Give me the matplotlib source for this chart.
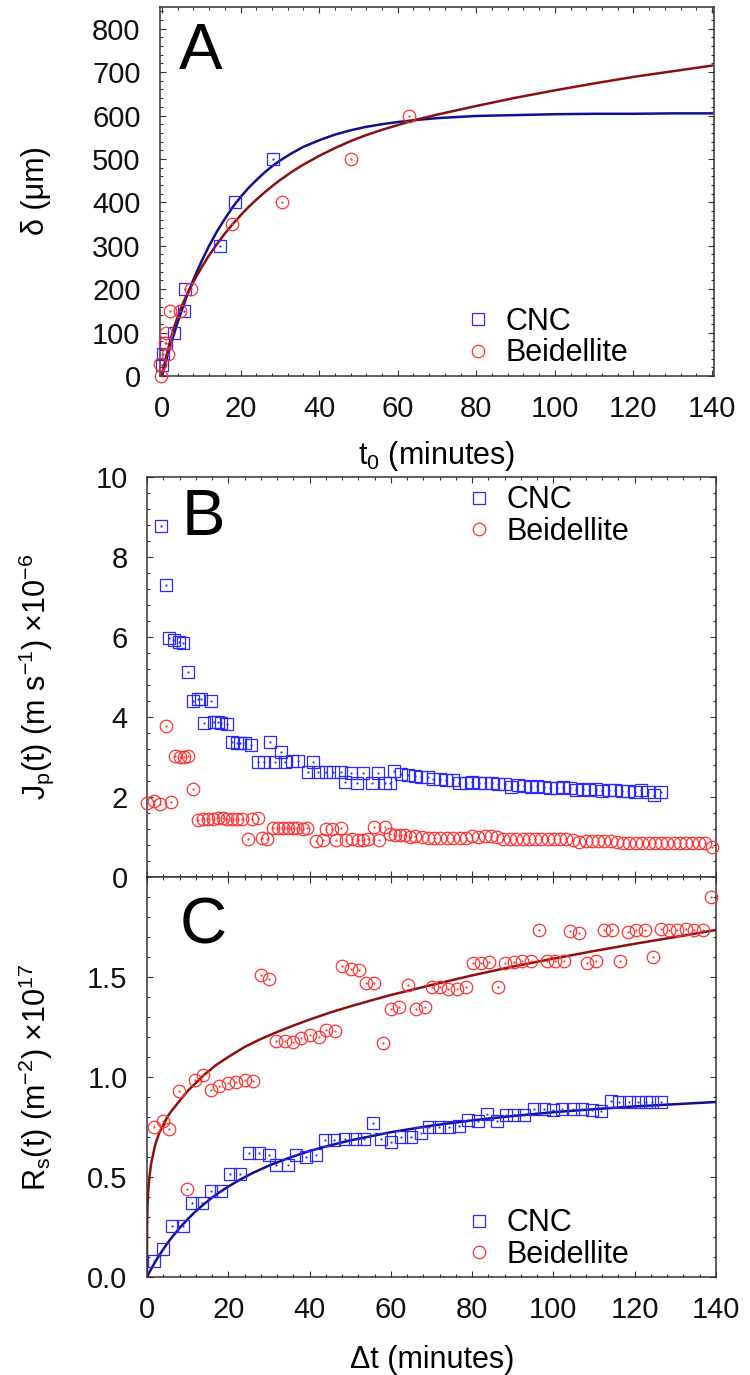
import matplotlib
matplotlib.use("Agg")
import matplotlib.pyplot as plt
from matplotlib.ticker import MultipleLocator

plt.rcParams["font.family"] = ["Liberation Sans", "DejaVu Sans"]
plt.rcParams["mathtext.default"] = "regular"

CNC_COLOR = "#2a2aff"
BEI_COLOR = "#ff3232"
CNC_FIT_COLOR = "#10108c"
BEI_FIT_COLOR = "#8c1010"

# ---- panel A: penetration depth vs t0 ----
a_cnc_t = [0.0, 0.3, 0.9, 3.1, 5.5, 5.8, 14.8, 18.5, 28.2]
a_cnc_d = [25, 50, 75, 100, 150, 200, 300, 400, 500]
a_bei_t = [-0.3, -0.4, 1.6, 0.8, 1.1, 2.1, 4.7, 7.4, 17.7, 30.6, 48.1, 63.0]
a_bei_d = [0, 28, 50, 75, 100, 150, 150, 200, 350, 400, 500, 600]

# fitted curves
a_fit_t = [0, 1, 2, 3, 4, 5, 6, 8, 10, 12, 14, 16, 18, 20, 22, 24, 26, 28, 30,
           33, 36, 40, 44, 48, 52, 56, 60, 65, 70, 80, 90, 100, 110, 120, 130,
           140]
a_cnc_fit = [0, 34, 65, 95, 124, 150, 176, 222, 263, 300, 333, 362, 389, 412,
             433, 451, 468, 483, 496, 513, 528, 543, 556, 566, 574, 580, 585,
             590, 594, 599, 601, 603, 604, 604, 605, 605]
a_bei_fit = [0, 42, 78, 110, 137, 160, 181, 217, 249, 278, 304, 328, 350, 370,
             389, 406, 422, 437, 451, 470, 487, 507, 525, 541, 555, 567, 578,
             591, 602, 622, 641, 658, 674, 689, 702, 715]

# ---- panel B: permeate flux ----
b_cnc_t = [3.4, 4.6, 5.5, 6.7, 7.8, 8.9, 10.0, 11.2, 12.5, 13.3, 15.7, 14.1,
           16.6, 17.4, 18.1, 19.6, 21.0, 22.2, 23.0, 24.0, 25.6, 27.4, 28.9,
           30.3, 31.5, 33.0, 33.9, 35.6, 37.2, 39.5, 40.9, 42.1, 44.1, 45.8,
           47.8, 48.7, 50.3, 51.6, 53.2, 55.3, 56.9, 58.5, 59.7, 60.8, 62.6,
           64.2, 65.9, 67.5, 69.1, 70.4, 72.0, 73.6, 75.2, 76.8, 78.4, 80.0,
           81.6, 83.2, 84.8, 86.4, 88.0, 89.6, 91.2, 92.8, 94.4, 96.0, 97.6,
           99.2, 100.8, 102.4, 104.0, 105.6, 107.2, 108.8, 110.4, 112.0, 113.6,
           115.2, 116.8, 118.4, 120.0, 121.6, 123.2, 124.8, 126.4]
b_cnc_j = [8.78, 7.30, 5.98, 5.93, 5.88, 5.86, 5.12, 4.40, 4.45, 4.45, 4.40,
           3.86, 3.88, 3.88, 3.86, 3.83, 3.37, 3.36, 3.36, 3.34, 3.30, 2.87,
           2.87, 3.37, 2.87, 3.13, 2.87, 2.90, 2.90, 2.63, 2.88, 2.63, 2.63,
           2.63, 2.63, 2.38, 2.60, 2.35, 2.60, 2.35, 2.60, 2.35, 2.35, 2.65,
           2.58, 2.54, 2.52, 2.50, 2.50, 2.46, 2.44, 2.43, 2.42, 2.36, 2.34,
           2.38, 2.35, 2.34, 2.34, 2.33, 2.32, 2.26, 2.30, 2.28, 2.26, 2.27,
           2.24, 2.23, 2.22, 2.24, 2.22, 2.17, 2.21, 2.17, 2.20, 2.16, 2.17,
           2.18, 2.15, 2.14, 2.13, 2.17, 2.13, 2.05, 2.13]
b_bei_t = [0.0, 1.8, 3.2, 5.9, 4.6, 6.9, 8.0, 9.2, 10.2, 11.2, 12.6, 13.8,
           15.0, 16.2, 17.4, 18.6, 19.8, 21.0, 22.2, 23.4, 25.8, 27.4, 24.8,
           28.2, 29.5, 31.0, 32.2, 33.4, 34.6, 35.8, 37.0, 38.4, 39.4, 41.6,
           43.2, 44.0, 45.4, 46.6, 47.8, 49.0, 50.4, 51.8, 53.2, 54.4, 55.8,
           57.0, 58.6, 59.8, 61.0, 62.2, 63.4, 64.6, 66.0, 67.6, 69.1, 70.7,
           72.2, 73.8, 75.3, 76.9, 78.4, 80.0, 81.5, 83.1, 84.6, 86.2, 87.7,
           89.3, 90.8, 92.4, 93.9, 95.5, 97.0, 98.6, 100.1, 101.7, 103.2,
           104.8, 106.3, 107.9, 109.4, 111.0, 112.5, 114.1, 115.6, 117.2,
           118.7, 120.3, 121.8, 123.4, 124.9, 126.5, 128.0, 129.6, 131.1,
           132.7, 134.2, 135.8, 137.3, 138.9]
b_bei_j = [1.86, 1.90, 1.83, 1.88, 3.78, 3.02, 3.00, 3.00, 3.02, 2.19, 1.42,
           1.44, 1.44, 1.46, 1.47, 1.47, 1.46, 1.46, 1.45, 1.45, 1.45, 1.47,
           0.95, 0.97, 0.95, 1.22, 1.23, 1.22, 1.23, 1.22, 1.22, 1.21, 1.22,
           0.90, 0.93, 1.20, 1.21, 0.93, 1.22, 0.93, 0.95, 0.93, 0.93, 0.96,
           1.24, 0.93, 1.25, 1.07, 1.05, 1.05, 1.05, 1.00, 1.02, 1.00, 0.98,
           0.98, 0.98, 0.98, 0.98, 0.98, 0.98, 1.02, 1.01, 1.03, 1.02, 1.00,
           0.96, 0.95, 0.95, 0.95, 0.95, 0.95, 0.95, 0.95, 0.95, 0.95, 0.95,
           0.93, 0.88, 0.90, 0.89, 0.90, 0.89, 0.90, 0.87, 0.86, 0.85, 0.85,
           0.85, 0.85, 0.85, 0.85, 0.85, 0.85, 0.85, 0.85, 0.85, 0.85, 0.85,
           0.76]

# ---- panel C: cake resistance ----
c_cnc_t = [1.8, 3.9, 6.2, 8.8, 11.1, 13.6, 15.8, 18.3, 20.3, 22.8, 25.0, 27.5,
           30.0, 31.8, 34.6, 36.6, 39.0, 41.5, 43.7, 46.1, 48.6, 51.1, 53.5,
           55.5, 57.6, 60.0, 62.5, 64.9, 67.4, 69.5, 71.9, 74.4, 76.7, 78.9,
           81.4, 83.6, 86.0, 88.3, 90.3, 92.8, 95.3, 97.7, 99.8, 102.2, 104.7,
           107.1, 109.6, 111.6, 114.1, 116.1, 118.6, 120.7, 122.7, 124.3, 126.4]
c_cnc_r = [0.08, 0.14, 0.255, 0.255, 0.37, 0.37, 0.43, 0.43, 0.515, 0.515,
           0.62, 0.62, 0.61, 0.56, 0.56, 0.61, 0.60, 0.61, 0.685, 0.685, 0.69,
           0.69, 0.69, 0.77, 0.69, 0.675, 0.70, 0.70, 0.72, 0.75, 0.75, 0.75,
           0.755, 0.785, 0.78, 0.815, 0.78, 0.81, 0.81, 0.81, 0.84, 0.84,
           0.835, 0.84, 0.84, 0.84, 0.835, 0.83, 0.88, 0.875, 0.875, 0.875,
           0.875, 0.875, 0.875]
c_bei_t = [1.8, 3.9, 5.5, 7.8, 9.8, 11.9, 13.9, 15.8, 17.7, 19.9, 21.9, 24.0,
           26.0, 28.1, 30.1, 31.8, 33.9, 35.9, 38.0, 40.2, 42.3, 44.1, 46.2,
           48.0, 50.2, 52.1, 53.9, 55.9, 58.0, 60.1, 62.1, 64.2, 66.2, 68.3,
           70.2, 72.0, 74.0, 76.3, 78.4, 80.3, 82.3, 84.2, 86.3, 88.2, 90.3,
           92.3, 94.4, 96.4, 98.5, 100.5, 102.6, 104.2, 106.3, 108.3, 110.4,
           112.4, 114.5, 116.5, 118.4, 120.4, 122.5, 124.5, 126.4, 128.4,
           130.5, 132.5, 134.6, 136.7, 138.7]
c_bei_r = [0.75, 0.78, 0.74, 0.93, 0.44, 0.985, 1.01, 0.935, 0.955, 0.97,
           0.975, 0.985, 0.98, 1.51, 1.49, 1.18, 1.18, 1.175, 1.195, 1.21,
           1.20, 1.235, 1.23, 1.555, 1.54, 1.535, 1.47, 1.47, 1.17, 1.34, 1.35,
           1.46, 1.34, 1.35, 1.45, 1.45, 1.44, 1.44, 1.45, 1.57, 1.57, 1.575,
           1.45, 1.57, 1.575, 1.58, 1.58, 1.735, 1.58, 1.58, 1.58, 1.73, 1.72,
           1.57, 1.58, 1.735, 1.735, 1.58, 1.725, 1.735, 1.735, 1.60, 1.74,
           1.735, 1.735, 1.74, 1.735, 1.735, 1.90]

# fitted curves
c_cnc_fit_t = [0, 1, 2, 3, 4, 5, 6, 8, 10, 12, 14, 16, 18, 20, 23, 26, 30, 35,
               40, 45, 50, 60, 70, 80, 90, 100, 110, 120, 130, 140]
c_cnc_fit = [0, 0.039, 0.075, 0.108, 0.139, 0.168, 0.195, 0.245, 0.289, 0.329,
             0.364, 0.397, 0.426, 0.452, 0.488, 0.520, 0.557, 0.596, 0.630,
             0.658, 0.683, 0.724, 0.757, 0.783, 0.805, 0.824, 0.839, 0.853,
             0.864, 0.875]
c_bei_fit_t = [0, 0.02, 0.1, 0.3, 0.6, 1, 2, 3, 4, 5, 6, 8, 10, 12, 14, 17, 20,
               24, 28, 32, 36, 40, 45, 50, 55, 60, 70, 80, 90, 100, 110, 120,
               130, 140]
c_bei_fit = [0, 0.24, 0.34, 0.43, 0.50, 0.565, 0.66, 0.72, 0.76, 0.80, 0.83,
             0.88, 0.93, 0.97, 1.01, 1.06, 1.10, 1.15, 1.19, 1.225, 1.257,
             1.287, 1.322, 1.353, 1.382, 1.41, 1.46, 1.508, 1.552, 1.592,
             1.63, 1.666, 1.70, 1.735]


def draw_points(ax, t, v, marker, color, size, label):
    ax.plot(t, v, ls="none", marker=marker, ms=size, mfc="none", mec=color,
            mew=0.9, clip_on=False, label=label, zorder=3)
    ax.plot(t, v, ls="none", marker=".", ms=1.2, color=color, clip_on=False,
            zorder=3)


def style_axes(ax, xmajor, xminor, ymajor, yminor):
    ax.xaxis.set_major_locator(MultipleLocator(xmajor))
    ax.xaxis.set_minor_locator(MultipleLocator(xminor))
    ax.yaxis.set_major_locator(MultipleLocator(ymajor))
    ax.yaxis.set_minor_locator(MultipleLocator(yminor))
    ax.tick_params(which="both", direction="in", top=True, right=True,
                   width=0.8, color="#333333")
    ax.tick_params(which="major", length=4.5, labelsize=21, pad=14,
                   labelcolor="#111111")
    ax.tick_params(which="minor", length=2.2)
    for sp in ax.spines.values():
        sp.set_linewidth(1.1)
        sp.set_color("#333333")


def add_legend(ax, x, y):
    ax.legend(loc="center left", bbox_to_anchor=(x, y), frameon=False,
              fontsize=22, handlelength=1.0, handletextpad=0.4,
              labelspacing=0.05, borderpad=0, borderaxespad=0, numpoints=1)


W, H = 750, 1375
fig = plt.figure(figsize=(W / 100, H / 100), dpi=100)


def px_axes(left, top, right, bottom):
    return fig.add_axes([left / W, 1 - bottom / H, (right - left) / W,
                         (bottom - top) / H])


# panel A
ax_a = px_axes(160, 7, 714, 376)
ax_a.plot(a_fit_t, a_cnc_fit, color=CNC_FIT_COLOR, lw=1.8, zorder=2)
ax_a.plot(a_fit_t, a_bei_fit, color=BEI_FIT_COLOR, lw=1.8, zorder=2)
draw_points(ax_a, a_cnc_t, a_cnc_d, "s", CNC_COLOR, 8, "CNC")
draw_points(ax_a, a_bei_t, a_bei_d, "o", BEI_COLOR, 9, "Beidellite")
ax_a.set_xlim(-0.5, 140.5)
ax_a.set_ylim(0, 850)
style_axes(ax_a, 20, 4, 100, 20)
ax_a.text(0.034, 0.96, "A", transform=ax_a.transAxes, fontsize=47,
          ha="left", va="top")
add_legend(ax_a, 0.547, 0.104)

# panel B
ax_b = px_axes(147, 477, 716, 877)
draw_points(ax_b, b_cnc_t, b_cnc_j, "s", CNC_COLOR, 8, "CNC")
draw_points(ax_b, b_bei_t, b_bei_j, "o", BEI_COLOR, 9, "Beidellite")
ax_b.set_xlim(0, 140)
ax_b.set_ylim(0, 10)
style_axes(ax_b, 20, 4, 2, 0.4)
ax_b.tick_params(labelbottom=False)
ax_b.text(0.0615, 0.9725, "B", transform=ax_b.transAxes, fontsize=47,
          ha="left", va="top")
add_legend(ax_b, 0.557, 0.9025)

# panel C
ax_c = px_axes(147, 877, 716, 1277)
ax_c.plot(c_cnc_fit_t, c_cnc_fit, color=CNC_FIT_COLOR, lw=1.8, zorder=2)
ax_c.plot(c_bei_fit_t, c_bei_fit, color=BEI_FIT_COLOR, lw=1.8, zorder=2)
draw_points(ax_c, c_cnc_t, c_cnc_r, "s", CNC_COLOR, 8, "CNC")
draw_points(ax_c, c_bei_t, c_bei_r, "o", BEI_COLOR, 9, "Beidellite")
ax_c.set_xlim(0, 140)
ax_c.set_ylim(0, 2.0)
style_axes(ax_c, 20, 4, 0.5, 0.1)
ax_c.set_yticks([0, 0.5, 1.0, 1.5])
ax_c.set_yticklabels(["0.0", "0.5", "1.0", "1.5"])
ax_c.text(0.058, 0.95, "C", transform=ax_c.transAxes, fontsize=47,
          ha="left", va="top")
add_legend(ax_c, 0.557, 0.095)

# axis labels
fig.text(36 / W, 1 - 191 / H, "δ (μm)", rotation=90, fontsize=22,
         ha="center", va="center")
fig.text(36 / W, 1 - 677 / H,
         "J$_\\mathregular{p}$(t) (m s$^{\\mathregular{-1}}$) ×10$^{\\mathregular{-6}}$",
         rotation=90, fontsize=22, ha="center", va="center")
fig.text(36 / W, 1 - 1077 / H,
         "R$_\\mathregular{s}$(t) (m$^{\\mathregular{-2}}$) ×10$^{\\mathregular{17}}$",
         rotation=90, fontsize=22, ha="center", va="center")
fig.text(437 / W, 1 - 456 / H, "t$_\\mathregular{0}$ (minutes)", fontsize=22,
         ha="center", va="center")
fig.text(432 / W, 1 - 1360 / H, "Δt (minutes)", fontsize=22,
         ha="center", va="center")

fig.savefig("out.png", dpi=100)
